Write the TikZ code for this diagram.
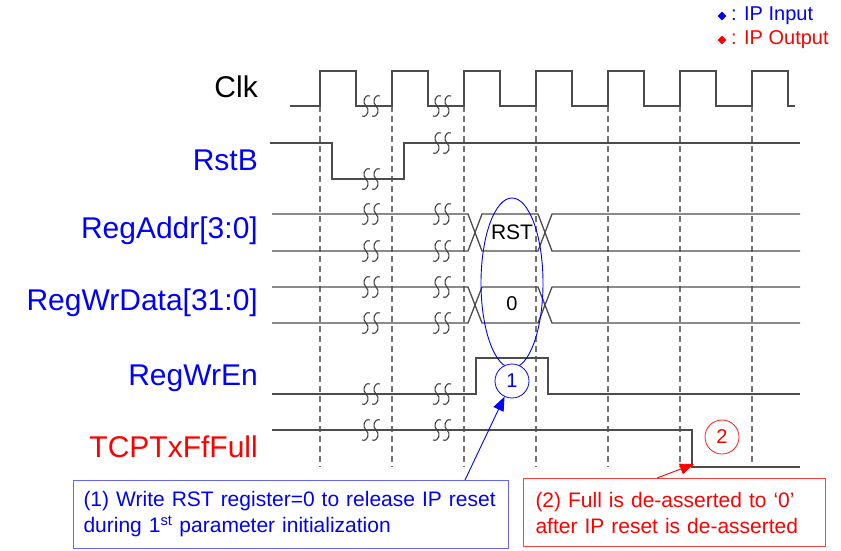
\documentclass[tikz,border=0pt]{standalone}
\usepackage{fontspec}
\setmainfont{Liberation Sans}
\usetikzlibrary{arrows.meta,shapes.geometric}

\begin{document}
\begin{tikzpicture}[x=1pt,y=-1pt,
    wave/.style={draw=black!70, line width=1.3pt},
    tick/.style={draw=black!55, line width=1.2pt, dash pattern=on 6pt off 4pt},
    siglabel/.style={anchor=base east, inner sep=0pt, font=\fontsize{30}{30}\selectfont},
    brk/.pic={
      \foreach \dx in {-5,5}
        \draw[black!75, line width=1.1pt] (\dx+4,-10) .. controls (\dx-2,-12) and (\dx-4,-3) .. (\dx,0) .. controls (\dx+4,3) and (\dx+2,12) .. (\dx-4,10);
    },
    note/.style={draw, line width=1pt, minimum height=68pt, align=left, inner ysep=4pt, font=\fontsize{21}{26}\selectfont},
    tag/.style={circle, draw, line width=0.8pt, fill=white, minimum size=34pt, inner sep=0pt, font=\fontsize{20}{20}\selectfont},
    legend/.style={anchor=west, inner sep=0pt, font=\fontsize{20}{20}\selectfont}
  ]
    \useasboundingbox (0,0) rectangle (841,550);

    \node[diamond, fill=blue, inner sep=0pt, minimum size=9pt] (dIn) at (722,16) {};
    \node[legend,text=blue] (tIn) at (731,16) {: IP Input};
    \node[diamond, fill=red, inner sep=0pt, minimum size=9pt] (dOut) at (722,40) {};
    \node[legend,text=red] (tOut) at (731,40) {: IP Output};

    \node[siglabel] (lClk) at (258,97) {Clk};
    \node[siglabel,text=blue] (lRst) at (258,170) {RstB};
    \node[siglabel,text=blue] (lAddr) at (258,238) {RegAddr[3:0]};
    \node[siglabel,text=blue] (lData) at (258,310) {RegWrData[31:0]};
    \node[siglabel,text=blue] (lEn) at (258,385) {RegWrEn};
    \node[siglabel,text=red] (lFull) at (258,457) {TCPTxFfFull};

    \foreach \r in {320,392,...,752}
      \draw[tick] (\r,106) -- (\r,467);

    \draw[wave] (290,106) foreach \r in {320,392,...,752} { -- (\r,106) -- (\r,71) -- (\r+36,71) -- (\r+36,106) } -- (795,106);
    \draw[wave] (270,143) -- (332,143) -- (332,179) -- (404,179) -- (404,143) -- (800,143);
    \foreach \t/\b in {214/251,287/323} {
      \draw[wave] (272,\t) -- (468,\t) -- (482,\b) -- (538,\b) -- (552,\t) -- (800,\t);
      \draw[wave] (272,\b) -- (468,\b) -- (482,\t) -- (538,\t) -- (552,\b) -- (800,\b);
    }
    \draw[wave] (272,394) -- (476,394) -- (476,358) -- (548,358) -- (548,394) -- (800,394);
    \draw[wave] (272,430) -- (692,430) -- (692,467) -- (800,467);

    \foreach \y in {106,214,251,287,323,394,430}
      \pic at (371,\y) {brk};
    \pic at (371,179) {brk};
    \foreach \y in {106,143,214,251,287,323,394,430}
      \pic at (442,\y) {brk};

    \node[font=\fontsize{21}{21}\selectfont, inner sep=0pt] (vRst) at (512,232) {RST};
    \node[font=\fontsize{20}{20}\selectfont, inner sep=0pt] (vZero) at (512,304) {0};

    \node[ellipse, draw=blue, line width=0.9pt, minimum width=62pt, minimum height=170pt, inner sep=0pt] (hl) at (512,283) {};
    \node[tag,draw=blue,text=blue] (c1) at (512,381) {1};
    \node[tag,draw=red!90,text=red] (c2) at (722,437) {2};

    \node[note,draw=blue!60,text=blue,anchor=north west,text width=415pt,inner xsep=10pt] (box1) at (73,480)
      {(1) Write RST register=0 to release IP reset\\during 1\textsuperscript{st} parameter initialization};
    \node[note,draw=red!75,text=red,anchor=north west,text width=278pt,inner xsep=12pt] (box2) at (523,478)
      {(2) Full is de-asserted to `0'\\after IP reset is de-asserted};

    \coordinate (fall) at (694,464);
    \draw[blue, line width=0.9pt, -{Triangle[length=14pt,width=11pt]}] ([xshift=392pt]box1.north west) -- (c1);
    \draw[red, line width=0.9pt, -{Triangle[length=14pt,width=11pt]}] ([xshift=134pt]box2.north west) -- (fall);
  \end{tikzpicture}
\end{document}
